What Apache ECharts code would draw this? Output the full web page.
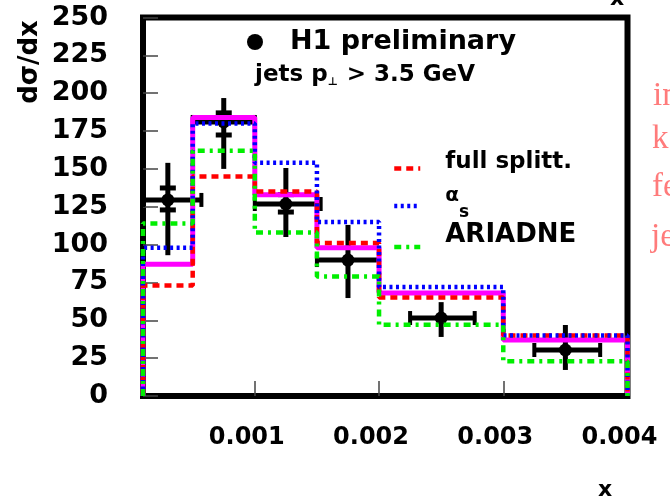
<!DOCTYPE html>
<html>
<head>
<meta charset="utf-8">
<script src="https://cdn.jsdelivr.net/npm/echarts@6/dist/echarts.min.js"></script>
<style>
  html, body { margin: 0; padding: 0; background: #fff; }
  #chart { width: 670px; height: 498px; }
</style>
</head>
<body>
<div id="chart"></div>
<script>
// Bin edges in x and predicted dσ/dx per bin
const binEdges = [0.0001, 0.0005, 0.001, 0.0015, 0.002, 0.003, 0.004];
const defaultModel = [87, 184, 133, 98, 68, 37];
const fullSplitt = [73, 145, 135, 101, 65, 40];
const alphaS = [98, 180, 154, 115, 72, 40];
const ariadne = [114, 162, 108, 79, 47, 23];

// H1 measurement: points, total and statistical errors, x ranges
const dataX = [0.0003, 0.00075, 0.00125, 0.00175, 0.0025, 0.0035];
const dataY = [129.5, 181, 126.8, 89.8, 51.5, 30.4];
const totLow = [93, 150, 105, 64.7, 39, 17.2];
const totHigh = [154, 196.8, 150.6, 113, 62, 46.9];
const statLow = [122.9, 172.4, 121.5, null, null, null];
const statHigh = [137.4, 187, 133, null, null, null];
const xLow = [0.0001, 0.0005, 0.001, 0.0015, 0.00225, 0.00325];
const xHigh = [0.00057, 0.001, 0.00153, 0.002, 0.00277, 0.00378];

// Axis ticks
const xTickValues = [0.001, 0.002, 0.003, 0.004];
const yMin = 0, yMax = 250, yStep = 25;

const FONT = '"DejaVu Sans", sans-serif';

// Closed histogram outline: up from zero at the first edge, across each bin, down at the last edge
function histogramPoints(vals) {
  const pts = [[binEdges[0], 0]];
  vals.forEach((v, i) => {
    pts.push([binEdges[i], v]);
    pts.push([binEdges[i + 1], v]);
  });
  pts.push([binEdges[binEdges.length - 1], 0]);
  return pts;
}

function histSeries(name, vals, color, width, dash) {
  return {
    name: name,
    type: 'line',
    data: histogramPoints(vals),
    symbol: 'none',
    clip: false,
    silent: true,
    animation: false,
    lineStyle: { color: color, width: width, type: dash, cap: 'butt' },
    itemStyle: { color: color }
  };
}

// One legend block per model curve, stacked under each other
const legendRich = {
  f: { fontFamily: FONT, fontWeight: 'bold', fontSize: 23, color: '#000', lineHeight: 38, padding: [0, 0, 12, 20] },
  a: { fontFamily: FONT, fontWeight: 'bold', fontSize: 20, color: '#000', lineHeight: 38, padding: [0, 0, 20, 20] },
  s: { fontFamily: FONT, fontWeight: 'bold', fontSize: 17, color: '#000', lineHeight: 38, padding: [14, 0, 0, 0] },
  b: { fontFamily: FONT, fontWeight: 'bold', fontSize: 26, color: '#000', lineHeight: 38, padding: [0, 0, 24, 20] }
};
function modelLegend(name, top) {
  return {
    data: [name],
    orient: 'vertical',
    left: 392, top: top, padding: 0,
    itemWidth: 26, itemHeight: 14,
    selectedMode: false,
    itemStyle: { opacity: 0 },
    lineStyle: { width: 4.5 },
    formatter: function (n) {
      if (n === 'αs') return '{a|α}{s|s}';
      if (n === 'ARIADNE') return '{b|ARIADNE}';
      return '{f|' + n + '}';
    },
    textStyle: { color: '#000', rich: legendRich }
  };
}

const chart = echarts.init(document.getElementById('chart'));

chart.setOption({
  backgroundColor: '#fff',
  animation: false,
  grid: {
    left: 143, right: 42.5, top: 17.5, bottom: 102,
    show: true, borderColor: '#000', borderWidth: 6,
    outerBoundsMode: 'none'
  },
  xAxis: {
    type: 'value',
    min: binEdges[0],
    max: binEdges[binEdges.length - 1],
    axisLine: { show: false },
    splitLine: { show: false },
    axisTick: {
      show: true, inside: true, length: 15,
      customValues: xTickValues.slice(0, 3),
      lineStyle: { color: '#444', width: 1.5 }
    },
    axisLabel: {
      customValues: xTickValues,
      margin: 30,
      fontFamily: FONT, fontWeight: 'bold', fontSize: 24, color: '#000',
      padding: [0, 16, 0, 0]
    }
  },
  yAxis: {
    type: 'value',
    min: yMin, max: yMax, interval: yStep,
    axisLine: { show: false },
    splitLine: { show: false },
    axisTick: { show: true, inside: true, length: 15, lineStyle: { color: '#444', width: 1.5 } },
    axisLabel: {
      margin: 35,
      fontFamily: FONT, fontWeight: 'bold', fontSize: 27, color: '#000'
    }
  },
  legend: [
    {
      data: [{ name: 'H1 preliminary', icon: 'circle' }],
      left: 247, top: 28.5, padding: 0,
      itemWidth: 16, itemHeight: 16,
      selectedMode: false,
      itemStyle: { color: '#000' },
      textStyle: {
        fontFamily: FONT, fontWeight: 'bold', fontSize: 27, color: '#000',
        padding: [0, 0, 0, 22]
      }
    },
    modelLegend('full splitt.', 151),
    modelLegend('αs', 186),
    modelLegend('ARIADNE', 222)
  ],
  graphic: [
    {
      type: 'text', x: 30, y: 62, rotation: Math.PI / 2,
      style: { text: 'dσ/dx', font: 'bold 26px ' + FONT, fill: '#000',
               textAlign: 'center', textVerticalAlign: 'middle', align: 'center', verticalAlign: 'middle' }
    },
    {
      type: 'text', x: 255, y: 75,
      style: {
        text: '{n|jets p}{u|⊥}{n| > 3.5 GeV}',
        textAlign: 'left', textVerticalAlign: 'middle', align: 'left', verticalAlign: 'middle',
        rich: {
          n: { fontFamily: FONT, fontWeight: 'bold', fontSize: 23, fill: '#000', color: '#000' },
          u: { fontFamily: FONT, fontWeight: 'bold', fontSize: 11, fill: '#000', color: '#000', padding: [14, 1, 0, 0] }
        }
      }
    },
    {
      type: 'text', x: 605, y: 490,
      style: { text: 'x', font: 'bold 22px ' + FONT, fill: '#000',
               textAlign: 'center', textVerticalAlign: 'middle', align: 'center', verticalAlign: 'middle' }
    },
    {
      type: 'text', x: 617, y: -1,
      style: { text: 'x', font: 'bold 22px ' + FONT, fill: '#000',
               textAlign: 'center', textVerticalAlign: 'middle', align: 'center', verticalAlign: 'middle' }
    },
    { type: 'text', x: 653, y: 96, style: { text: 'in', font: '33px "Liberation Serif", serif', fill: '#ff7b7b', textVerticalAlign: 'middle', verticalAlign: 'middle' } },
    { type: 'text', x: 652, y: 139, style: { text: 'k', font: '33px "Liberation Serif", serif', fill: '#ff7b7b', textVerticalAlign: 'middle', verticalAlign: 'middle' } },
    { type: 'text', x: 652, y: 187, style: { text: 'fe', font: '33px "Liberation Serif", serif', fill: '#ff7b7b', textVerticalAlign: 'middle', verticalAlign: 'middle' } },
    { type: 'text', x: 651, y: 237, style: { text: 'je', font: '33px "Liberation Serif", serif', fill: '#ff7b7b', textVerticalAlign: 'middle', verticalAlign: 'middle' } }
  ],
  series: [
    {
      name: 'H1 preliminary',
      type: 'custom',
      data: dataX.map((x, i) => [x, dataY[i]]),
      clip: false,
      silent: true,
      itemStyle: { color: '#000' },
      renderItem: function (params, api) {
        const i = params.dataIndex;
        const p = api.coord([dataX[i], dataY[i]]);
        const top = api.coord([dataX[i], totHigh[i]]);
        const bot = api.coord([dataX[i], totLow[i]]);
        const l = api.coord([xLow[i], dataY[i]]);
        const r = api.coord([xHigh[i], dataY[i]]);
        const bar = { stroke: '#000', lineWidth: 5 };
        const cap = { stroke: '#000', lineWidth: 4 };
        const children = [
          { type: 'line', shape: { x1: p[0], y1: top[1], x2: p[0], y2: bot[1] }, style: bar },
          { type: 'line', shape: { x1: l[0], y1: p[1], x2: r[0], y2: p[1] }, style: bar },
          { type: 'line', shape: { x1: l[0], y1: p[1] - 7, x2: l[0], y2: p[1] + 7 }, style: cap },
          { type: 'line', shape: { x1: r[0], y1: p[1] - 7, x2: r[0], y2: p[1] + 7 }, style: cap }
        ];
        if (statLow[i] != null) {
          const sl = api.coord([dataX[i], statLow[i]]);
          const sh = api.coord([dataX[i], statHigh[i]]);
          children.push({ type: 'line', shape: { x1: p[0] - 8, y1: sl[1], x2: p[0] + 8, y2: sl[1] }, style: bar });
          children.push({ type: 'line', shape: { x1: p[0] - 8, y1: sh[1], x2: p[0] + 8, y2: sh[1] }, style: bar });
        }
        children.push({ type: 'circle', shape: { cx: p[0], cy: p[1], r: 6.5 }, style: { fill: '#000' } });
        return { type: 'group', children: children };
      }
    },
    histSeries('default', defaultModel, '#ff00ff', 5, 'solid'),
    histSeries('full splitt.', fullSplitt, '#ff0000', 4.5, [7, 5]),
    histSeries('αs', alphaS, '#0000ff', 4.5, [3, 3.5]),
    histSeries('ARIADNE', ariadne, '#00ee00', 4.5, [7, 5, 3, 5])
  ]
});
</script>
</body>
</html>
